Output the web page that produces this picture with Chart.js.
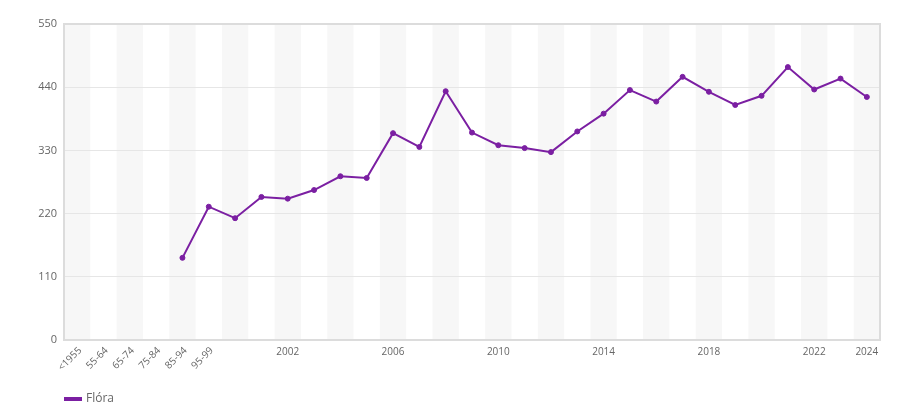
<!DOCTYPE html>
<html>
<head>
<meta charset="utf-8">
<script src="https://cdn.jsdelivr.net/npm/chart.js@4"></script>
<style>
html,body{margin:0;padding:0;background:#fff;}
#wrap{width:900px;height:420px;position:relative;}
</style>
</head>
<body>
<div id="wrap"><canvas id="c" width="900" height="420"></canvas></div>
<script>
const categories = ['<1955','55-64','65-74','75-84','85-94','95-99',
  '2000','2001','2002','2003','2004','2005','2006','2007','2008','2009',
  '2010','2011','2012','2013','2014','2015','2016','2017','2018','2019',
  '2020','2021','2022','2023','2024'];
const floraValues = [null,null,null,null,143,232,212,249,246,261,285,282,360,336,433,361,
  339,334,327,363,394,435,415,458,432,409,425,475,436,455,423];
const shownYearLabels = ['2002','2006','2010','2014','2018','2022','2024'];
const rotatedLabels = ['<1955','55-64','65-74','75-84','85-94','95-99'];
const seriesName = 'Flóra';
const yTicks = [0,110,220,330,440,550];

const purple = '#7b1fa2';
const textColor = '#666666';
const fontFamily = '"Open Sans", sans-serif';

const bandsPlugin = {
  id: 'bands',
  beforeDraw(chart) {
    const {ctx, chartArea: a, scales: {x}} = chart;
    ctx.save();
    ctx.fillStyle = '#f7f7f7';
    const w = (a.right - a.left) / categories.length;
    for (let i = 0; i < categories.length; i += 2) {
      const cx = x.getPixelForValue(i);
      ctx.fillRect(cx - w / 2, a.top, w, a.bottom - a.top);
    }
    ctx.restore();
  },
  afterDraw(chart) {
    const {ctx, chartArea: a, scales: {x}} = chart;
    ctx.save();
    // frame
    ctx.strokeStyle = '#dcdcdc';
    ctx.lineWidth = 2;
    ctx.strokeRect(a.left, a.top, a.right - a.left, a.bottom - a.top);
    // rotated labels
    ctx.fillStyle = textColor;
    ctx.font = '10px ' + fontFamily;
    ctx.textAlign = 'right';
    ctx.textBaseline = 'middle';
    rotatedLabels.forEach((lab) => {
      const i = categories.indexOf(lab);
      const px = x.getPixelForValue(i);
      ctx.save();
      ctx.translate(px + 3, a.bottom + 9);
      ctx.rotate(-Math.PI / 4);
      ctx.fillText(lab, 0, 0);
      ctx.restore();
    });
    // legend
    const ds = chart.data.datasets[0];
    ctx.fillStyle = ds.borderColor;
    ctx.fillRect(64, 397, 18, 4);
    ctx.fillStyle = textColor;
    ctx.font = '12px ' + fontFamily;
    ctx.textAlign = 'left';
    ctx.textBaseline = 'middle';
    ctx.fillText(ds.label, 86, 399);
    ctx.restore();
  }
};

new Chart(document.getElementById('c'), {
  type: 'line',
  data: {
    labels: categories,
    datasets: [{
      label: seriesName,
      data: floraValues,
      borderColor: purple,
      backgroundColor: purple,
      borderWidth: 2,
      pointRadius: 2.5,
      pointBorderWidth: 1,
      pointHoverRadius: 4,
      tension: 0,
      spanGaps: false
    }]
  },
  options: {
    responsive: false,
    animation: false,
    layout: {padding: {left: 0, right: 20, top: 24, bottom: 30}},
    plugins: {legend: {display: false}, tooltip: {enabled: false}},
    scales: {
      x: {
        grid: {display: false, drawTicks: false},
        border: {display: false},
        offset: true,
        ticks: {
          autoSkip: false,
          maxRotation: 0,
          minRotation: 0,
          padding: 6,
          color: textColor,
          font: {family: fontFamily, size: 10},
          callback: function(v) {
            const l = categories[v];
            return shownYearLabels.includes(l) ? l : '';
          }
        },
        afterFit(s) { s.height = 50; }
      },
      y: {
        min: 0,
        max: 550,
        afterBuildTicks(s) { s.ticks = yTicks.map(v => ({value: v})); },
        grid: {color: '#e6e6e6', lineWidth: 1, drawTicks: false},
        border: {display: false},
        ticks: {
          padding: 7,
          color: textColor,
          font: {family: fontFamily, size: 11}
        },
        afterFit(s) { s.width = 64; }
      }
    }
  },
  plugins: [bandsPlugin]
});
</script>
</body>
</html>
